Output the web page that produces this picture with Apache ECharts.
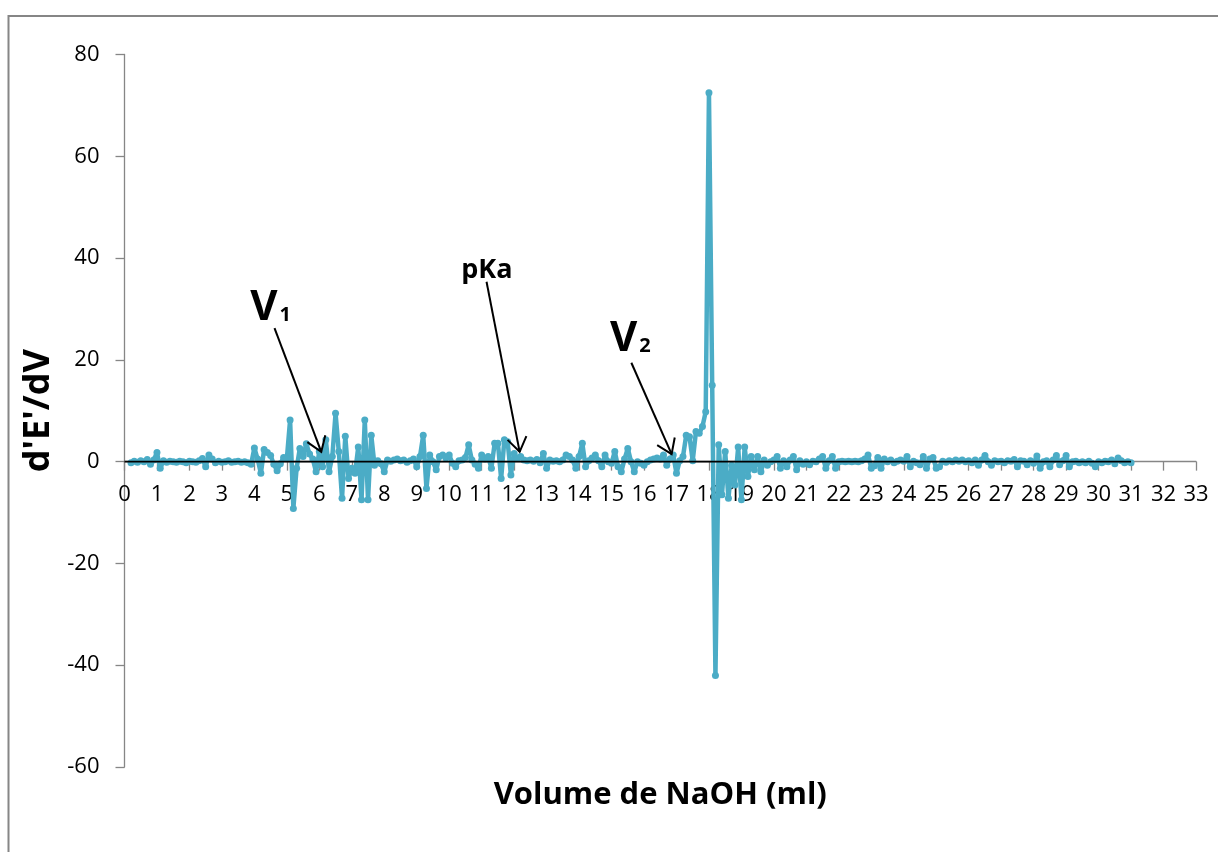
<!DOCTYPE html>
<html>
<head>
<meta charset="utf-8">
<title>d'E'/dV - Volume de NaOH</title>
<script src="https://cdn.jsdelivr.net/npm/echarts@6/dist/echarts.min.js"></script>
<style>
    html, body { margin: 0; padding: 0; background: #fff; }
    #chart { width: 1218px; height: 852px; }
</style>
</head>
<body>
<div id="chart"></div>
<script>
// titrant volume (ml), one reading every 0.1 ml
var volumes = [
    0.2, 0.3, 0.4, 0.5, 0.6, 0.7, 0.8, 0.9,
    1.0, 1.1, 1.2, 1.3, 1.4, 1.5, 1.6, 1.7, 1.8, 1.9,
    2.0, 2.1, 2.2, 2.3, 2.4, 2.5, 2.6, 2.7, 2.8, 2.9,
    3.0, 3.1, 3.2, 3.3, 3.4, 3.5, 3.6, 3.7, 3.8, 3.9,
    4.0, 4.1, 4.2, 4.3, 4.4, 4.5, 4.6, 4.7, 4.8, 4.9,
    5.0, 5.1, 5.2, 5.3, 5.4, 5.5, 5.6, 5.7, 5.8, 5.9,
    6.0, 6.1, 6.2, 6.3, 6.4, 6.5, 6.6, 6.7, 6.8, 6.9,
    7.0, 7.1, 7.2, 7.3, 7.4, 7.5, 7.6, 7.7, 7.8, 7.9,
    8.0, 8.1, 8.2, 8.3, 8.4, 8.5, 8.6, 8.7, 8.8, 8.9,
    9.0, 9.1, 9.2, 9.3, 9.4, 9.5, 9.6, 9.7, 9.8, 9.9,
    10.0, 10.1, 10.2, 10.3, 10.4, 10.5, 10.6, 10.7, 10.8, 10.9,
    11.0, 11.1, 11.2, 11.3, 11.4, 11.5, 11.6, 11.7, 11.8, 11.9,
    12.0, 12.1, 12.2, 12.3, 12.4, 12.5, 12.6, 12.7, 12.8, 12.9,
    13.0, 13.1, 13.2, 13.3, 13.4, 13.5, 13.6, 13.7, 13.8, 13.9,
    14.0, 14.1, 14.2, 14.3, 14.4, 14.5, 14.6, 14.7, 14.8, 14.9,
    15.0, 15.1, 15.2, 15.3, 15.4, 15.5, 15.6, 15.7, 15.8, 15.9,
    16.0, 16.1, 16.2, 16.3, 16.4, 16.5, 16.6, 16.7, 16.8, 16.9,
    17.0, 17.1, 17.2, 17.3, 17.4, 17.5, 17.6, 17.7, 17.8, 17.9,
    18.0, 18.1, 18.2, 18.3, 18.4, 18.5, 18.6, 18.7, 18.8, 18.9,
    19.0, 19.1, 19.2, 19.3, 19.4, 19.5, 19.6, 19.7, 19.8, 19.9,
    20.0, 20.1, 20.2, 20.3, 20.4, 20.5, 20.6, 20.7, 20.8, 20.9,
    21.0, 21.1, 21.2, 21.3, 21.4, 21.5, 21.6, 21.7, 21.8, 21.9,
    22.0, 22.1, 22.2, 22.3, 22.4, 22.5, 22.6, 22.7, 22.8, 22.9,
    23.0, 23.1, 23.2, 23.3, 23.4, 23.5, 23.6, 23.7, 23.8, 23.9,
    24.0, 24.1, 24.2, 24.3, 24.4, 24.5, 24.6, 24.7, 24.8, 24.9,
    25.0, 25.1, 25.2, 25.3, 25.4, 25.5, 25.6, 25.7, 25.8, 25.9,
    26.0, 26.1, 26.2, 26.3, 26.4, 26.5, 26.6, 26.7, 26.8, 26.9,
    27.0, 27.1, 27.2, 27.3, 27.4, 27.5, 27.6, 27.7, 27.8, 27.9,
    28.0, 28.1, 28.2, 28.3, 28.4, 28.5, 28.6, 28.7, 28.8, 28.9,
    29.0, 29.1, 29.2, 29.3, 29.4, 29.5, 29.6, 29.7, 29.8, 29.9,
    30.0, 30.1, 30.2, 30.3, 30.4, 30.5, 30.6, 30.7, 30.8, 30.9, 31.0
];

// second derivative d'E'/dV, same order as volumes
var derivative = [
    -0.2, 0.1, -0.1, 0.2, 0.0, 0.4, -0.5, 0.3,
    1.8, -1.3, 0.2, -0.1, 0.1, 0.0, -0.1, 0.1, 0.0, -0.2,
    0.1, 0.0, -0.1, 0.2, 0.6, -1.0, 1.3, 0.5, -0.2, 0.1,
    -0.1, 0.0, 0.2, -0.1, 0.0, 0.1, -0.1, 0.0, -0.2, -0.5,
    2.7, 0.5, -2.3, 2.4, 1.8, 1.2, -0.5, -1.8, -0.4, 0.8,
    0.6, 8.2, -9.2, -1.3, 2.6, 1.0, 3.5, 1.5, 0.5, -2.0,
    2.0, -1.0, 4.3, -2.0, 1.0, 9.5, 2.0, -7.2, 5.0, -3.3,
    -1.3, -2.3, 2.9, -7.5, 8.2, -7.5, 5.2, -0.7, 0.2, -0.4,
    -2.0, 0.3, 0.1, 0.3, 0.5, 0.2, 0.3, -0.1, 0.2, 0.5,
    -1.0, 1.0, 5.2, -5.3, 1.3, 0.0, -1.6, 1.0, 1.3, 0.7,
    1.3, -0.3, -1.0, 0.2, 0.3, 0.8, 3.3, 0.3, -0.5, -1.3,
    1.3, 0.5, 1.0, -1.3, 3.6, 3.6, -3.3, 4.3, 3.9, -2.6,
    1.6, 0.6, 1.0, 0.3, 0.2, 0.3, 0.1, 0.4, -0.2, 1.6,
    -1.3, 0.3, 0.1, 0.2, 0.0, 0.3, 1.3, 1.0, 0.3, -1.3,
    1.0, 3.6, -1.0, 0.2, 0.7, 1.3, 0.2, -1.0, 1.3, 0.0,
    -0.3, 2.0, -1.0, -2.0, 0.5, 2.6, 0.0, -2.0, 0.0, -0.3,
    -0.7, 0.0, 0.3, 0.5, 0.7, 0.5, 1.3, -0.7, 0.5, 1.3,
    -2.3, 0.2, 1.0, 5.2, 4.9, 0.2, 5.9, 5.6, 6.9, 9.8,
    72.5, 15.0, -42.0, 3.3, -6.5, 2.0, -7.2, -0.7, -4.6, 2.9,
    -7.5, 2.9, -2.9, 1.0, -1.6, 1.0, -2.0, 0.3, -0.7, 0.0,
    0.3, 1.0, -1.3, 0.2, -1.0, 0.3, 1.0, -1.6, 0.2, -0.5,
    0.0, -0.6, 0.1, 0.0, 0.5, 1.0, -1.3, 0.2, 1.0, -1.3,
    0.0, 0.1, 0.0, 0.1, 0.0, 0.1, 0.0, 0.2, 0.5, 1.3,
    -1.3, -0.8, 0.8, -1.3, 0.5, 0.0, 0.3, -0.2, 0.1, 0.3,
    0.1, 1.0, -1.0, 0.1, -0.2, -0.6, 1.0, -1.3, 0.5, 0.8,
    -1.3, -1.0, 0.1, -0.1, 0.2, 0.0, 0.3, 0.1, 0.3, 0.0,
    0.2, -0.2, 0.3, -0.7, 0.3, 1.2, 0.0, -0.7, 0.2, 0.0,
    0.1, -0.2, 0.2, 0.1, 0.4, -1.0, 0.2, 0.1, -0.6, 0.2,
    -0.3, 1.1, -1.3, 0.0, 0.2, -1.0, 0.3, 1.2, -0.6, 0.2,
    1.2, -1.0, 0.0, 0.1, -0.2, 0.0, -0.2, 0.1, -0.3, -1.0,
    0.0, -0.2, 0.1, 0.0, 0.3, -0.4, 0.7, 0.2, -0.2, 0.0, -0.2
];

// axis ranges and steps
var xRange = [0, 33];
var xStep = 1;
var yRange = [-60, 80];
var yStep = 20;

// labelled arrows: label anchor, arrow start and arrow tip (data coords)
var annotations = [
    {name: 'V', sub: '1', at: [4.5, 30.2], from: [4.62, 26.25], to: [6.06, 1.93]},
    {name: 'pKa', sub: '', at: [11.16, 37.6], from: [11.15, 35.35], to: [12.17, 1.93]},
    {name: 'V', sub: '2', at: [15.58, 24.1], from: [15.61, 19.43], to: [16.85, 1.47]}
];

var FONT = '"Open Sans", "Noto Sans", sans-serif';
var AXIS_GRAY = '#868686';
var SERIES_COLOR = '#4BACC6';

// grid box (px)
var GRID_TOP = 54.5;
var GRID_BOTTOM = 85;
var CHART_H = 852;

var chart = echarts.init(document.getElementById('chart'));

var points = [];
for (var i = 0; i < volumes.length; ++i) {
    points.push([volumes[i], derivative[i]]);
}

// the x axis crosses at y = 0: shift it up from the grid bottom by hand,
// so the labels and the title move with the line
var gridHeight = CHART_H - GRID_TOP - GRID_BOTTOM;
var zeroShift = gridHeight * (0 - yRange[0]) / (yRange[1] - yRange[0]);

var frame = {
    type: 'rect',
    shape: {x: 8.5, y: 16, width: 1240, height: 880},
    style: {fill: null, stroke: AXIS_GRAY, lineWidth: 2},
    silent: true
};

chart.setOption({
    animation: false,
    backgroundColor: '#fff',
    textStyle: {fontFamily: FONT},
    grid: {
        left: 124.5,
        right: 22,
        top: GRID_TOP,
        bottom: GRID_BOTTOM,
        containLabel: false,
        outerBoundsMode: 'none'
    },
    xAxis: {
        type: 'value',
        min: xRange[0],
        max: xRange[1],
        interval: xStep,
        position: 'bottom',
        offset: -zeroShift,
        name: 'Volume de NaOH (ml)',
        nameLocation: 'middle',
        nameGap: 318,
        nameTextStyle: {
            fontFamily: FONT,
            fontSize: 31,
            fontWeight: 'bold',
            color: '#000'
        },
        axisLine: {
            onZero: false,
            lineStyle: {color: AXIS_GRAY, width: 1.3}
        },
        axisTick: {
            show: true,
            length: 9,
            lineStyle: {color: AXIS_GRAY, width: 1.3}
        },
        axisLabel: {
            margin: 22,
            fontFamily: FONT,
            fontSize: 22,
            color: '#000'
        },
        splitLine: {show: false}
    },
    yAxis: {
        type: 'value',
        min: yRange[0],
        max: yRange[1],
        interval: yStep,
        name: 'd\'E\'/dV',
        nameLocation: 'middle',
        nameGap: 68,
        nameTextStyle: {
            fontFamily: FONT,
            fontSize: 36,
            fontWeight: 'bold',
            color: '#000'
        },
        axisLine: {
            show: true,
            onZero: false,
            lineStyle: {color: AXIS_GRAY, width: 1.3}
        },
        axisTick: {
            show: true,
            length: 9,
            lineStyle: {color: AXIS_GRAY, width: 1.3}
        },
        axisLabel: {
            margin: 25,
            fontFamily: FONT,
            fontSize: 22,
            color: '#000'
        },
        splitLine: {show: false}
    },
    series: [
        {
            type: 'line',
            data: points,
            symbol: 'circle',
            symbolSize: 7,
            showSymbol: true,
            itemStyle: {color: SERIES_COLOR},
            lineStyle: {color: SERIES_COLOR, width: 4.5},
            z: 2
        },
        {
            // black zero line drawn over the data, only along the data span
            type: 'line',
            data: [[xRange[0], 0], [volumes[volumes.length - 1], 0]],
            symbol: 'none',
            lineStyle: {color: '#000', width: 1.6},
            z: 5,
            silent: true
        }
    ],
    graphic: [frame]
});

/**
 * arrows and their labels, placed through the grid's coordinate system
 *
 * @return {Object[]} graphic elements
 */
function buildAnnotations() {
    var elements = [];
    var armLength = 17;
    var spread = 0.6;

    annotations.forEach(function (a) {
        var p0 = chart.convertToPixel({gridIndex: 0}, a.from);
        var p1 = chart.convertToPixel({gridIndex: 0}, a.to);
        var pt = chart.convertToPixel({gridIndex: 0}, a.at);
        var angle = Math.atan2(p1[1] - p0[1], p1[0] - p0[0]);

        var h1 = [
            p1[0] - armLength * Math.cos(angle - spread),
            p1[1] - armLength * Math.sin(angle - spread)
        ];
        var h2 = [
            p1[0] - armLength * Math.cos(angle + spread),
            p1[1] - armLength * Math.sin(angle + spread)
        ];

        elements.push({
            type: 'line',
            shape: {x1: p0[0], y1: p0[1], x2: p1[0], y2: p1[1]},
            style: {stroke: '#000', lineWidth: 2},
            z: 100
        });
        elements.push({
            type: 'polyline',
            shape: {points: [h1, p1, h2]},
            style: {stroke: '#000', lineWidth: 2, fill: null},
            z: 100
        });

        var big = a.sub ? 42 : 27;
        elements.push({
            type: 'text',
            x: pt[0],
            y: pt[1],
            z: 100,
            style: {
                text: a.sub ? '{b|' + a.name + '}{s|' + a.sub + '}' : '{b|' + a.name + '}',
                align: 'center',
                verticalAlign: 'middle',
                rich: {
                    b: {
                        fontFamily: FONT,
                        fontWeight: 'bold',
                        fontSize: big,
                        lineHeight: big,
                        fill: '#000',
                        verticalAlign: 'bottom'
                    },
                    s: {
                        fontFamily: FONT,
                        fontWeight: 'bold',
                        fontSize: 20,
                        lineHeight: 20,
                        fill: '#000',
                        verticalAlign: 'bottom',
                        padding: [0, 0, 4, 2]
                    }
                }
            }
        });
    });
    return elements;
}

chart.setOption({
    graphic: [frame].concat(buildAnnotations())
});
</script>
</body>
</html>
